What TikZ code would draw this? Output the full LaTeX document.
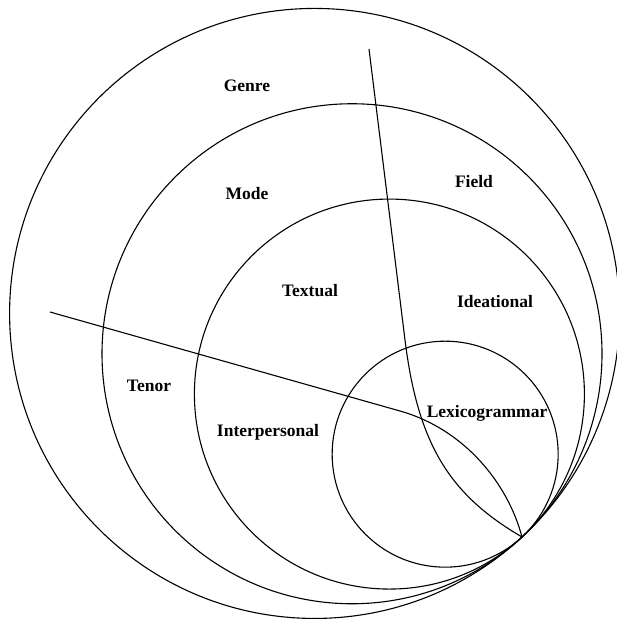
\documentclass[tikz,border=0pt]{standalone}
\usepackage{fontspec}
\setmainfont{Liberation Serif}
\usepackage{tikz}
\usetikzlibrary{calc}

\begin{document}
\begin{tikzpicture}[
    x=1pt,y=-1pt,
    ring/.style={draw,line width=1.1pt},
    cut/.style={draw,line width=1.1pt},
    lab/.style={font=\fontsize{17.5}{19}\selectfont\bfseries,inner sep=0pt}
  ]
    \useasboundingbox (0,0) rectangle (616,621);
    % common touching point of the rings
    \coordinate (tip) at (522,537);
    \foreach \r/\n in {305/genre,250/register,195/meta,113/lexgram}
      \draw[ring] ($(tip)+(-0.68*\r,-0.733*\r)$) circle[radius=\r pt];
    % the two dividing lines
    \coordinate (topend) at (369,49);
    \coordinate (leftend) at (50,312);
    \draw[cut] (topend) -- (405,340) .. controls (418,445) and (450,495) .. (tip);
    \draw[cut] (leftend) -- (400,411) .. controls (465,429.4) and (508,484) .. (tip);
    \node[lab] (genre) at (247,86) {Genre};
    \node[lab] (mode) at (247,194) {Mode};
    \node[lab] (field) at (474,182) {Field};
    \node[lab] (tenor) at (149,386) {Tenor};
    \node[lab] (textual) at (310,291) {Textual};
    \node[lab] (ideational) at (495,302) {Ideational};
    \node[lab] (interpersonal) at (268,432) {Interpersonal};
    \node[lab] (lexicogrammar) at (487,413) {Lexicogrammar};
  \end{tikzpicture}
\end{document}
